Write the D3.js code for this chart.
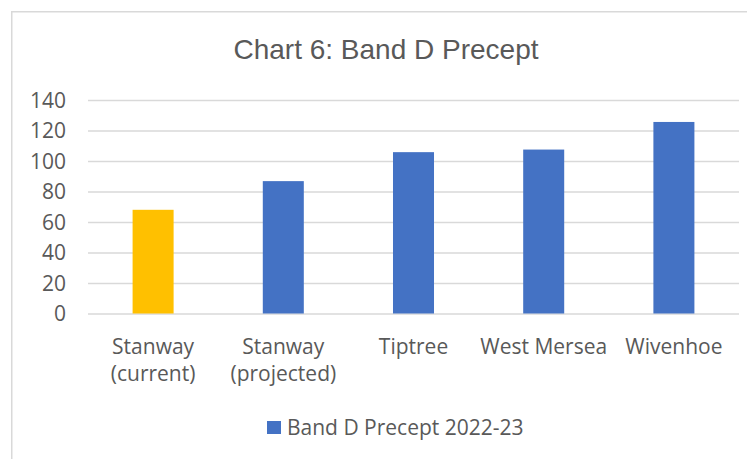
<!DOCTYPE html>
<html>
<head>
<meta charset="utf-8">
<script src="https://cdn.jsdelivr.net/npm/d3@7"></script>
<style>
  html, body { margin: 0; padding: 0; background: #fff; }
  svg { display: block; }
</style>
</head>
<body>
<svg id="chart" width="747" height="459"></svg>
<script>
const categories = [["Stanway", "(current)"], ["Stanway", "(projected)"], ["Tiptree"], ["West Mersea"], ["Wivenhoe"]];
const values = [68.0, 86.8, 105.8, 107.5, 125.6];
const barColors = ["#ffc000", "#4472c4", "#4472c4", "#4472c4", "#4472c4"];
const yTicks = [0, 20, 40, 60, 80, 100, 120, 140];
const title = "Chart 6: Band D Precept";
const seriesName = "Band D Precept 2022-23";

const svg = d3.select("#chart");
const textColor = "#595959";
const font = "'Open Sans', sans-serif";

// chart border
svg.append("rect")
  .attr("x", 11.75).attr("y", 11.75)
  .attr("width", 760).attr("height", 460)
  .attr("fill", "#fff").attr("stroke", "#d9d9d9").attr("stroke-width", 1.5);

const plot = { left: 88, right: 739, top: 100, bottom: 313.5 };

const x = d3.scaleBand()
  .domain(d3.range(categories.length))
  .range([plot.left, plot.right])
  .paddingInner(0.685)
  .paddingOuter(0.3425);

const y = d3.scaleLinear()
  .domain([0, 140])
  .range([plot.bottom, plot.top]);

// gridlines
const yAxis = d3.axisLeft(y).tickValues(yTicks).tickSize(-(plot.right - plot.left)).tickPadding(22);
const gy = svg.append("g").attr("transform", `translate(${plot.left},0)`).call(yAxis);
gy.select(".domain").remove();
gy.selectAll(".tick line").attr("stroke", "#d9d9d9").attr("stroke-width", 1.5);
gy.selectAll(".tick text")
  .attr("fill", textColor)
  .style("font-family", font)
  .style("font-size", "21px")
  .attr("dy", "0.35em");

// bars
svg.append("g").selectAll("rect")
  .data(values)
  .join("rect")
  .attr("x", (d, i) => x(i))
  .attr("width", x.bandwidth())
  .attr("y", d => y(d))
  .attr("height", d => y(0) - y(d))
  .attr("fill", (d, i) => barColors[i]);

// x axis labels
const xAxis = d3.axisBottom(x).tickSize(0).tickFormat("");
const gx = svg.append("g").attr("transform", `translate(0,${plot.bottom})`).call(xAxis);
gx.select(".domain").remove();
gx.selectAll(".tick").each(function(d) {
  const t = d3.select(this).append("text")
    .attr("fill", textColor)
    .attr("text-anchor", "middle")
    .style("font-family", font)
    .style("font-size", "21px");
  categories[d].forEach((line, k) => {
    t.append("tspan").attr("x", 0).attr("y", 40 + k * 27).text(line);
  });
});

// title
svg.append("text")
  .attr("x", 386).attr("y", 59)
  .attr("text-anchor", "middle")
  .attr("fill", textColor)
  .style("font-family", "'Liberation Sans', Arial, sans-serif")
  .style("font-size", "28px")
  .text(title);

// legend
const lg = svg.append("g").attr("transform", "translate(267,421)");
lg.append("rect").attr("width", 14).attr("height", 13).attr("fill", "#4472c4");
lg.append("text")
  .attr("x", 20).attr("y", 14)
  .attr("fill", textColor)
  .style("font-family", font)
  .style("font-size", "21px")
  .text(seriesName);
</script>
</body>
</html>
